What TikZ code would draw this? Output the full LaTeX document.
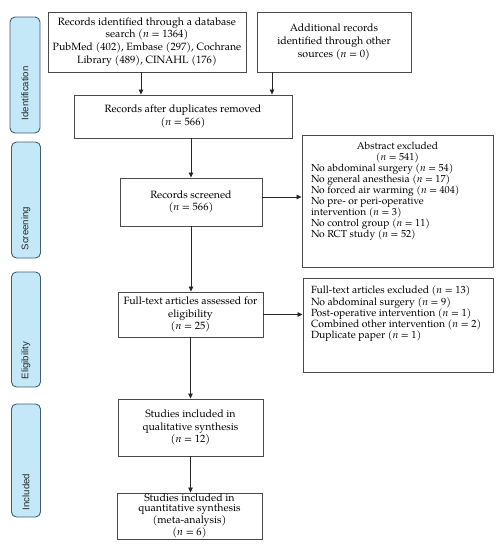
\documentclass[tikz,border=0pt]{standalone}
\usepackage{fontspec}
\setmainfont{TeX Gyre Pagella}
\newfontfamily\sidefont{Liberation Sans}
\usetikzlibrary{arrows.meta}
\definecolor{sidefill}{HTML}{C4E8F8}
\definecolor{sidedraw}{HTML}{3F5F6E}
\definecolor{boxdraw}{HTML}{4A4A4A}
\tikzset{
  box/.style={draw=boxdraw, line width=0.9pt, fill=white, inner sep=0pt, align=center,
     font=\fontsize{10.6}{12.8}\selectfont},
  side/.style={draw=sidedraw, line width=0.9pt, fill=sidefill, rounded corners=5pt},
  sidelabel/.style={rotate=90, anchor=west, inner sep=0pt, font=\sidefont\fontsize{9.6}{11}\selectfont, text=black!85},
  arr/.style={draw=black!85, line width=0.8pt, -{Triangle[length=5pt,width=4.5pt]}},
}
\begin{document}
\begin{tikzpicture}[x=1pt,y=-1pt]
\useasboundingbox (0,0) rectangle (503,550);
% side bars
\node[side, minimum width=30pt, minimum height=116pt] (s1) at (25,75) {};
\node[side, minimum width=29pt, minimum height=116pt] (s2) at (26,200) {};
\node[side, minimum width=29pt, minimum height=115pt] (s3) at (26,329.5) {};
\node[side, minimum width=29pt, minimum height=113pt] (s4) at (26,460.5) {};
\node[sidelabel] (l1) at ([yshift=13pt]s1.south) {Identification};
\node[sidelabel] (l2) at ([yshift=8pt]s2.south) {Screening};
\node[sidelabel] (l3) at ([yshift=8pt]s3.south) {Eligibility};
\node[sidelabel] (l4) at ([yshift=7pt]s4.south) {Included};
% boxes
\node[box, minimum width=198pt, minimum height=60pt] (b1) at (147,42)
  {Records identified through a database\\ search (\textit{n} = 1364)\\ PubMed (402), Embase (297), Cochrane\\ Library (489), CINAHL (176)};
\node[box, minimum width=154pt, minimum height=60pt] (b2) at (334,42)
  {Additional records\\ identified through other\\ sources (\textit{n} = 0)};
\node[box, minimum width=218pt, minimum height=43pt] (b3) at (183,116.5)
  {Records after duplicates removed\\ (\textit{n} = 566)};
\node[box, minimum width=142pt, minimum height=48pt] (b4) at (191,202)
  {Records screened\\ (\textit{n} = 566)};
\node[box, minimum width=145pt, minimum height=45pt] (b5) at (190.5,314.5)
  {Full-text articles assessed for\\ eligibility\\ (\textit{n} = 25)};
\node[box, minimum width=145pt, minimum height=57pt] (b8) at (190.5,427.5)
  {Studies included in\\ qualitative synthesis\\ (\textit{n} = 12)};
\node[box, minimum width=145pt, minimum height=46pt, font=\fontsize{10.6}{10.6}\selectfont] (b9) at (189.5,516)
  {Studies included in\\ quantitative synthesis\\ (meta-analysis)\\ (\textit{n} = 6)};
\node[box, inner xsep=9pt, inner ysep=7pt, font=\fontsize{10.2}{11}\selectfont] (b6) at (397.5,201)
  {\parbox[c][118pt][t]{173pt}{\centering Abstract excluded\\ (\textit{n} = 541)\par\raggedright
   No abdominal surgery (\textit{n} = 54)\\
   No general anesthesia (\textit{n} = 17)\\
   No forced air warming (\textit{n} = 404)\\
   No pre- or peri-operative\\
   intervention (\textit{n} = 3)\\
   No control group (\textit{n} = 11)\\
   No RCT study (\textit{n} = 52)}};
\node[box, inner xsep=8pt, inner ysep=8pt, font=\fontsize{10.4}{11.3}\selectfont] (b7) at (398,325)
  {\parbox[c][78pt][t]{174pt}{\raggedright
   Full-text articles excluded (\textit{n} = 13)\\
   No abdominal surgery (\textit{n} = 9)\\
   Post-operative intervention (\textit{n} = 1)\\
   Combined other intervention (\textit{n} = 2)\\
   Duplicate paper (\textit{n} = 1)}};
% connectors
\coordinate (c1) at (141,0);
\coordinate (c2) at (272,0);
\draw[arr] (b1.south -| c1) -- (b3.north -| c1);
\draw[arr] (b2.south -| c2) -- (b3.north -| c2);
\draw[arr] (b3.south -| b4.north) -- (b4.north);
\draw[arr] (b4.south) -- (b5.north -| b4.south);
\draw[arr] (b5.south) -- (b8.north -| b5.south);
\draw[arr] (b8.south) -- (b9.north -| b8.south);
\draw[arr] ([yshift=5pt]b4.east) -- ([yshift=5pt]b4.east -| b6.west);
\draw[arr] (b5.east) -- (b5.east -| b7.west);
\end{tikzpicture}
\end{document}
